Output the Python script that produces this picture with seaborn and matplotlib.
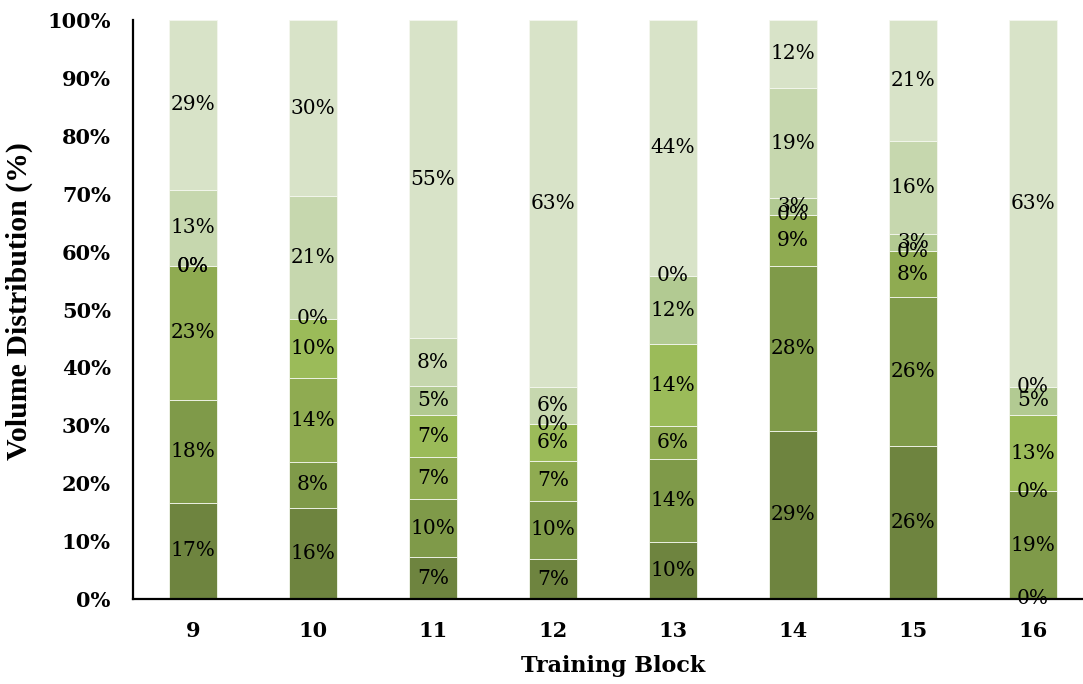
import matplotlib
matplotlib.use("Agg")
import matplotlib.pyplot as plt
import seaborn as sns
import numpy as np
import pandas as pd

# Training blocks on the x axis
blocks = ["9", "10", "11", "12", "13", "14", "15", "16"]

# Share of training volume (%) per intensity zone, bottom (zone 1) to top (zone 7)
zone1 = [16.6, 15.8, 7.2, 6.9, 9.9, 29.1, 26.4, 0.0]
zone2 = [17.8, 7.9, 10.0, 10.1, 14.2, 28.4, 25.7, 18.6]
zone3 = [23.1, 14.4, 7.3, 6.8, 5.7, 8.9, 8.0, 0.0]
zone4 = [0.0, 10.3, 7.3, 6.4, 14.2, 0.0, 0.0, 13.1]
zone5 = [0.0, 0.0, 5.0, 0.0, 11.8, 2.8, 2.9, 5.0]
zone6 = [13.2, 21.2, 8.2, 6.4, 0.0, 19.1, 16.1, 0.0]
zone7 = [29.3, 30.4, 55.0, 63.4, 44.2, 11.7, 20.9, 63.3]

zones = [zone1, zone2, zone3, zone4, zone5, zone6, zone7]
zone_colors = ["#6e843f", "#7f9a49", "#8fab51", "#9bbb59",
               "#b2ca92", "#c6d7ae", "#d8e3c8"]

sns.set_theme(style="white")
plt.rcParams["font.family"] = ["DejaVu Serif"]

fig = plt.figure(figsize=(10.83, 6.84), dpi=100)
ax = fig.add_axes([133 / 1083, 85 / 684, 960 / 1083, 579 / 684])

bottom = np.zeros(len(blocks))
for vals, col in zip(zones, zone_colors):
    df = pd.DataFrame({"block": blocks, "share": vals})
    sns.barplot(data=df, x="block", y="share", order=blocks, color=col,
                width=0.4, bottom=bottom, saturation=1, ax=ax,
                edgecolor="#f4f7ee", linewidth=0.6, errorbar=None)
    bottom = bottom + np.array(vals)

for cont in ax.containers:
    ax.bar_label(cont, labels=[f"{v:.0f}%" for v in cont.datavalues],
                 label_type="center", fontsize=14.5, color="black",
                 clip_on=False)

ax.set_xlim(-0.5, 7.5)
ax.set_ylim(0, 100)
ax.set_yticks(np.arange(0, 101, 10))
ax.set_yticklabels([f"{t}%" for t in range(0, 101, 10)],
                   fontsize=15, fontweight="bold")
for lbl in ax.get_xticklabels():
    lbl.set_fontsize(15)
    lbl.set_fontweight("bold")
ax.tick_params(axis="both", length=0, colors="black")
ax.tick_params(axis="x", pad=16)
ax.tick_params(axis="y", pad=16)

ax.set_xlabel("Training Block", fontsize=16, fontweight="bold",
              color="black", labelpad=10)
ax.set_ylabel("Volume Distribution (%)", fontsize=21.5, fontweight="bold",
              family="Liberation Serif", color="black")
ax.yaxis.set_label_coords(-0.104, 0.515)

for side in ["top", "right"]:
    ax.spines[side].set_visible(False)
for side in ["left", "bottom"]:
    ax.spines[side].set_color("black")
    ax.spines[side].set_linewidth(1.6)

fig.savefig("out.png", dpi=100)
